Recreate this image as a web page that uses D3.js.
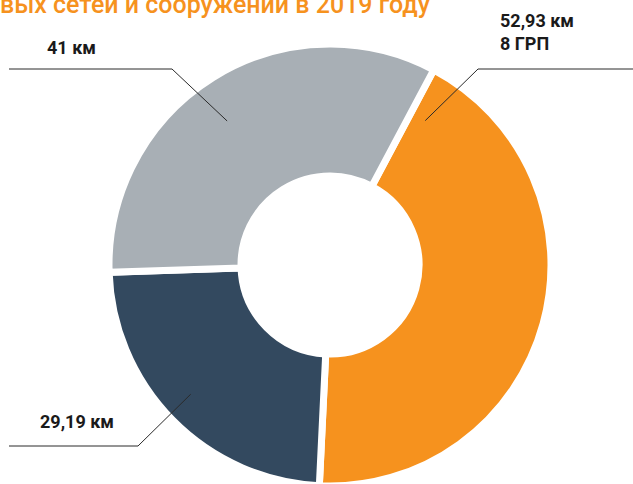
<!DOCTYPE html>
<meta charset="utf-8">
<style>
  body { margin: 0; background: #fff; }
  svg { display: block; }
  .lbl { font-family: Roboto, sans-serif; font-weight: bold; font-size: 18px; fill: #1a1a1a; }
</style>
<svg width="633" height="484"></svg>
<script src="https://d3js.org/d3.v7.min.js"></script>
<script>
var categories = ["orange", "dark", "gray"];
var values = [52.93, 29.19, 41];
var labels = [["52,93 км", "8 ГРП"], ["29,19 км"], ["41 км"]];
var colors = ["#f6921e", "#33495f", "#a8afb5"];
var title = "вых сетей и сооружений в 2019 году";

var svg = d3.select("svg");
var cx = 330, cy = 265, rInner = 89, rOuter = 221;

svg.append("text")
    .attr("x", 0).attr("y", 13)
    .attr("textLength", 430)
    .attr("lengthAdjust", "spacingAndGlyphs")
    .attr("fill", "#f6921e")
    .style("font-family", "Roboto, sans-serif")
    .style("font-weight", 500)
    .style("font-size", "25px")
    .text(title);

var start = 28 * Math.PI / 180;
var pie = d3.pie().sort(null)
    .startAngle(start).endAngle(start + 2 * Math.PI);
var arcs = pie(values);
var arc = d3.arc().innerRadius(rInner).outerRadius(rOuter);

var g = svg.append("g").attr("transform", "translate(" + cx + "," + cy + ")");
g.selectAll("path")
    .data(arcs)
    .enter().append("path")
    .attr("d", arc)
    .attr("fill", function(d, i) { return colors[i]; })
    .attr("stroke", "#fff")
    .attr("stroke-width", 7);

// leader lines: anchor angle within slice, elbow point, end x
var leaders = [
    { frac: 0.035, r: 173, elbow: [478, 69], endX: 633, tx: 500, ty: [27, 50] },
    { frac: 0.52, r: 190, elbow: [138, 446], endX: 9, tx: 40, ty: [428] },
    { frac: 0.47, r: 177, elbow: [172, 69], endX: 9, tx: 47, ty: [54] }
];

arcs.forEach(function(a, i) {
    var L = leaders[i];
    var ang = a.startAngle + L.frac * (a.endAngle - a.startAngle);
    var p = d3.pointRadial(ang, L.r);
    var x0 = cx + p[0], y0 = cy + p[1];
    svg.append("polyline")
        .attr("points", [[x0, y0], L.elbow, [L.endX, L.elbow[1]]].map(function(q) { return q.join(","); }).join(" "))
        .attr("fill", "none")
        .attr("stroke", "#2a2a2a")
        .attr("stroke-width", 1);
    labels[i].forEach(function(t, j) {
        svg.append("text")
            .attr("class", "lbl")
            .attr("x", L.tx).attr("y", L.ty[j])
            .text(t);
    });
});
</script>
